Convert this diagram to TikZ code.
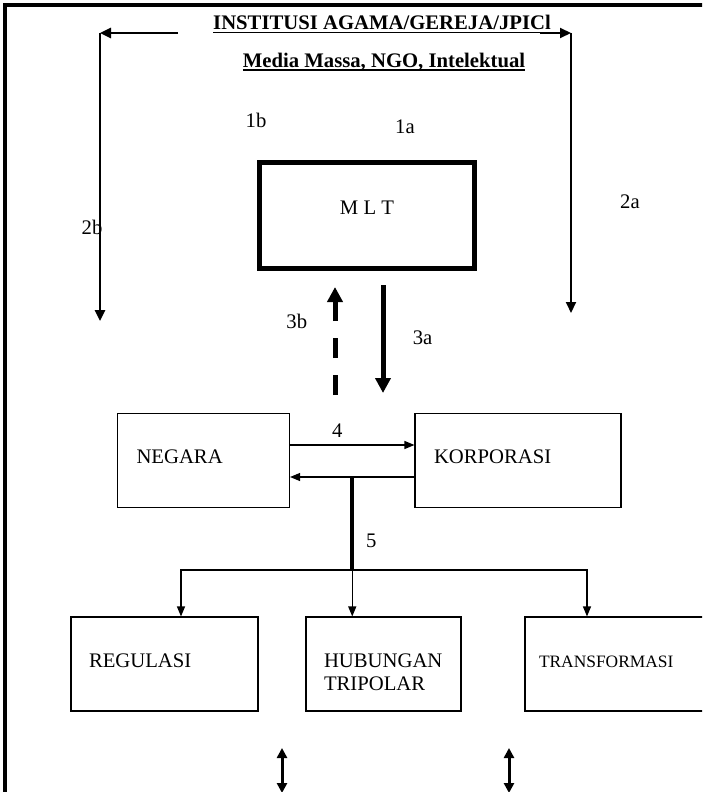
\documentclass[tikz,border=0pt]{standalone}
\usepackage{fontspec}
\setmainfont{Liberation Serif}
\usetikzlibrary{arrows.meta}

\newcommand{\headul}[1]{\setbox0=\hbox{#1}\rlap{\vrule height -2pt depth 3.5pt width \wd0}\box0}

\begin{document}
\begin{tikzpicture}[x=1pt, y=-1pt, line width=1.1pt, font=\fontsize{20.7pt}{23pt}\selectfont, >={Triangle[length=10pt, width=8pt]}, block/.style={rectangle, draw, minimum height=94pt, align=left, inner xsep=0pt, text height=14pt, text depth=7.3pt}, mltblock/.style={rectangle, draw, line width=5pt, minimum width=215pt, minimum height=106pt, text height=14pt, text depth=17pt}, heavy/.style={line width=5pt, >={Triangle[length=15pt, width=15pt]}}, side/.style={line width=2.6pt, >={Triangle[length=11pt, width=10pt]}}, twoway/.style={line width=3pt, <->, >={Triangle[length=10pt, width=10pt]}}]
  \useasboundingbox (0,0) rectangle (702,792);
  \clip (0,0) rectangle (702,792);
  \draw[line width=4pt] (5,800) -- (5,5) -- (710,5);

  \node[anchor=base, font=\fontsize{20.7pt}{23pt}\selectfont\bfseries] (institusi) at (382,30) {\headul{INSTITUSI AGAMA/GEREJA/JPICl}};
  \node[anchor=base, font=\fontsize{20.7pt}{23pt}\selectfont\bfseries] (media) at (384,67) {\headul{Media Massa, NGO, Intelektual}};

  \node[mltblock] (mlt) at (367,215.5) {M L T};
  \node[block, minimum width=172pt, text width=134pt] (negara) at (203.5,460.5) {NEGARA};
  \node[block, right of=negara, node distance=314.5pt, minimum width=206pt, text width=168pt] (korporasi) {KORPORASI};
  \node[block, minimum width=187pt, text width=151pt] (regulasi) at (164.5,664) {REGULASI};
  \node[block, right of=regulasi, node distance=219pt, minimum width=155pt, text width=119pt] (hubungan) {HUBUNGAN\\TRIPOLAR};
  \node[block, right of=hubungan, node distance=244pt, minimum width=205pt, text width=177pt, font=\fontsize{17.4pt}{21pt}\selectfont] (transformasi) {TRANSFORMASI};

  \node (lab1b) at (256,120) {1b};
  \node (lab1a) at (405,127) {1a};
  \node (lab2a) at (630,202) {2a};

  \node[coordinate] (cornerl) at (100,33) {};
  \node[coordinate, right of=cornerl, node distance=78pt] (fromtitle) {};
  \node[coordinate, below of=cornerl, node distance=288pt] (end2b) {};
  \node[coordinate] (cornerr) at (571,33) {};
  \node[coordinate, left of=cornerr, node distance=31pt] (totitle) {};
  \node[coordinate, below of=cornerr, node distance=280pt] (end2a) {};

  \node[coordinate, below of=mlt, xshift=16pt, node distance=69.5pt] (mltout) {};
  \node[coordinate, below of=mltout, node distance=108pt] (mltoutend) {};
  \node[coordinate, below of=mlt, xshift=-32pt, node distance=71.5pt] (mltin) {};
  \node[coordinate, below of=mltin, node distance=108pt] (mltinstart) {};

  \node[coordinate] (feedl) at (282,748) {};
  \node[coordinate, below of=feedl, node distance=45pt] (feedlend) {};
  \node[coordinate] (feedr) at (509,748) {};
  \node[coordinate, below of=feedr, node distance=45pt] (feedrend) {};

  \draw[side, ->] (fromtitle) -- (cornerl);
  \draw[side, ->] (cornerl) -- (end2b);
  \draw[side, line width=2pt, ->] (totitle) -- (cornerr);
  \draw[side, line width=2pt, ->] (cornerr) -- (end2a);
  \node (lab2b) at (92,227) {2b};

  \draw[heavy, ->] (mltout) -- node[right=24pt, pos=0.49] {3a} (mltoutend);
  \draw[heavy, ->, dash pattern=on 20pt off 17pt] (mltinstart) -- node[left=22pt, pos=0.68] {3b} (mltin);

  \draw[->] ([yshift=15.5pt]negara.east) -- node[above=3.7pt, pos=0.38] {4} ([yshift=15.5pt]korporasi.west);
  \draw[->] ([yshift=-16.5pt]korporasi.west) -- node[coordinate, pos=0.5] (split) {} ([yshift=-16.5pt]negara.east);
  \draw[line width=4pt] (split) -- node[right=8.5pt, pos=0.69] {5} ++(0,93) node[coordinate] (bus) {};

  \draw[->] (bus) -| ([xshift=16.5pt]regulasi.north);
  \draw[->] (bus) -- (bus |- hubungan.north);
  \draw[->] (bus) -| ([xshift=-40.5pt]transformasi.north);

  \draw[twoway] (feedl) -- (feedlend);
  \draw[twoway] (feedr) -- (feedrend);

\end{tikzpicture}
\end{document}
